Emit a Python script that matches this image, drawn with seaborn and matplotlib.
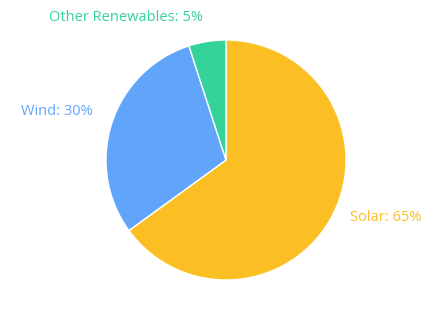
import matplotlib
matplotlib.use("Agg")
import matplotlib.pyplot as plt
import seaborn as sns

categories = ["Solar", "Wind", "Other Renewables"]
values = [65, 30, 5]
colors = ["#FBBF24", "#60A5FA", "#34D399"]

sns.set_theme(style="white")
plt.rcParams['font.family'] = ['Open Sans', 'DejaVu Sans']

W, H = 435, 311
fig = plt.figure(figsize=(W / 100, H / 100), dpi=100)
cx, cy, r = 226, 160, 120
ax = fig.add_axes([(cx - r) / W, (H - cy - r) / H, 2 * r / W, 2 * r / H])

labels = [f"{c}: {v}%" for c, v in zip(categories, values)]
wedges, texts = ax.pie(values, colors=colors, startangle=90, counterclock=False,
                       labels=labels, labeldistance=1.15,
                       wedgeprops=dict(edgecolor="white", linewidth=1),
                       textprops=dict(fontsize=10.5))
ax.set_xlim(-1, 1)
ax.set_ylim(-1, 1)
ax.set_aspect("equal")

# label placement like the reference
pos = [(1.033, -0.483, "left"), (-1.108, 0.408, "right"), (-0.83, 1.19, "center")]
for t, col, (x, y, ha) in zip(texts, colors, pos):
    t.set_color(col)
    t.set_position((x, y))
    t.set_ha(ha)
    t.set_va("center")
    t.set_clip_on(False)

fig.savefig("out.png", dpi=100)
